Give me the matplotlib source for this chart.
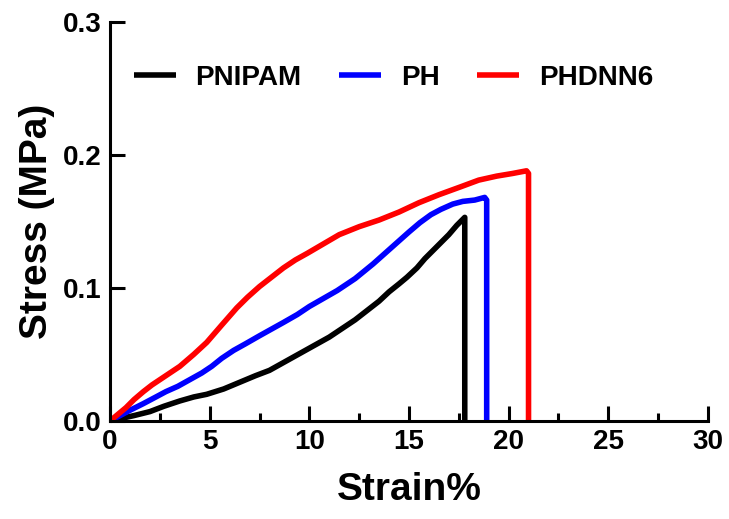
import matplotlib.pyplot as plt
import numpy as np

plt.rcParams['font.family'] = ['Liberation Sans', 'DejaVu Sans']
plt.rcParams['font.weight'] = 'bold'

labels = ["PNIPAM", "PH", "PHDNN6"]
colors = ["black", "#0000ff", "#ff0000"]

# strain (%) and stress (MPa)
pnipam_x = [0, 0.6, 1.2, 2.0, 2.7, 3.5, 4.2, 4.85, 5.7, 6.5, 7.3, 8.0, 8.6, 9.2, 9.8, 10.4, 11.0, 11.6, 12.3,
            12.9, 13.5, 14.0, 14.5, 14.9, 15.4, 15.8, 16.2, 16.6, 17.0, 17.4, 17.8, 17.8]
pnipam_y = [0, 0.002, 0.004, 0.007, 0.011, 0.015, 0.018, 0.020, 0.024, 0.029, 0.034, 0.038, 0.043, 0.048, 0.053,
            0.058, 0.063, 0.069, 0.076, 0.083, 0.090, 0.097, 0.103, 0.108, 0.115, 0.122, 0.128, 0.134, 0.140,
            0.147, 0.153, 0.0]

ph_x = [0, 0.5, 1.0, 1.67, 2.3, 2.8, 3.4, 4.0, 4.6, 5.1, 5.6, 6.2, 6.8, 7.5, 8.1, 8.7, 9.4, 10.0, 10.7, 11.4,
        12.3, 13.2, 13.8, 14.4, 15.0, 15.55, 16.1, 16.6, 17.2, 17.7, 18.3, 18.8, 18.9, 18.9]
ph_y = [0, 0.004, 0.008, 0.013, 0.018, 0.022, 0.026, 0.031, 0.036, 0.041, 0.047, 0.053, 0.058, 0.064, 0.069,
        0.074, 0.080, 0.086, 0.092, 0.098, 0.107, 0.118, 0.126, 0.134, 0.142, 0.149, 0.155, 0.159, 0.163,
        0.165, 0.166, 0.168, 0.166, 0.0]

phdnn6_x = [0, 0.4, 0.8, 1.2, 1.67, 2.1, 2.6, 3.0, 3.5, 4.2, 4.85, 5.6, 6.36, 6.9, 7.5, 8.1, 8.7, 9.3, 9.9,
            10.7, 11.5, 12.5, 13.5, 14.5, 15.5, 16.5, 17.6, 18.5, 19.4, 20.2, 20.9, 21.0, 21.0]
phdnn6_y = [0, 0.005, 0.010, 0.016, 0.022, 0.027, 0.032, 0.036, 0.041, 0.050, 0.059, 0.072, 0.085, 0.093, 0.101,
            0.108, 0.115, 0.121, 0.126, 0.133, 0.140, 0.146, 0.151, 0.157, 0.164, 0.170, 0.176, 0.181, 0.184,
            0.186, 0.188, 0.186, 0.0]

series_x = [pnipam_x, ph_x, phdnn6_x]
series_y = [pnipam_y, ph_y, phdnn6_y]

fig = plt.figure(figsize=(7.29, 5.19), dpi=100)
ax = fig.add_axes([0.151, 0.189, 0.820, 0.769])

for x, y, c, lab in zip(series_x, series_y, colors, labels):
    ax.plot(x, y, color=c, lw=4, label=lab, solid_joinstyle='round', solid_capstyle='butt')

ax.set_xlim(0, 30)
ax.set_ylim(0, 0.3)
ax.set_xticks(np.arange(0, 31, 5))
ax.set_xticks(np.arange(2.5, 30, 5), minor=True)
ax.set_yticks([0.0, 0.1, 0.2, 0.3])
ax.set_yticklabels(["0.0", "0.1", "0.2", "0.3"])

ax.spines['top'].set_visible(False)
ax.spines['right'].set_visible(False)
for s in ['left', 'bottom']:
    ax.spines[s].set_linewidth(2.2)

ax.tick_params(axis='both', which='major', direction='in', length=11, width=2.2,
               labelsize=20, pad=6)
ax.tick_params(axis='x', which='minor', direction='in', length=6, width=2.2)
for t in ax.get_xticklabels() + ax.get_yticklabels():
    t.set_fontweight('bold')

ax.set_xlabel("Strain%", fontsize=28, fontweight='bold', labelpad=12)
ax.set_ylabel("Stress (MPa)", fontsize=28, fontweight='bold', labelpad=6)

ax.legend(loc='upper left', bbox_to_anchor=(-0.002, 0.955), ncol=3, frameon=False,
          handlelength=1.5, handletextpad=0.72, columnspacing=1.35,
          prop={'size': 20, 'weight': 'bold'})

fig.savefig("out.png", dpi=100)
